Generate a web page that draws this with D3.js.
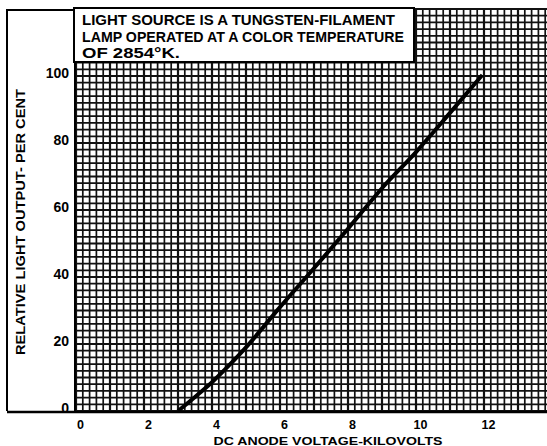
<!DOCTYPE html>
<html><head><meta charset="utf-8">
<script src="https://cdn.jsdelivr.net/npm/d3@7"></script>
<style>
html,body{margin:0;padding:0;background:#fff;}
svg{display:block;}
text{font-family:"Liberation Sans",Arial,sans-serif;font-weight:bold;fill:#000;}
</style></head><body>
<svg id="c" width="547" height="446"></svg>
<script>
// ---- data ----
const voltageKV = [3.0, 3.5, 4.0, 4.5, 5.0, 6.0, 7.0, 8.0, 9.0, 10.0, 11.0, 11.95];
const lightOutput = [0, 4.2, 8.6, 13.6, 19.0, 31.0, 42.6, 54.4, 66.5, 77.3, 89.0, 100.3];
const xTicks = [0, 2, 4, 6, 8, 10, 12];
const yTicks = [0, 20, 40, 60, 80, 100];
const noteLines = ["LIGHT SOURCE IS A TUNGSTEN-FILAMENT", "LAMP OPERATED AT A COLOR TEMPERATURE", "OF 2854°K."];
const xTitle = "DC ANODE  VOLTAGE-KILOVOLTS";
const yTitle = "RELATIVE LIGHT OUTPUT- PER CENT";

const svg = d3.select("#c");
const x = d3.scaleLinear().domain([0, 14]).range([76, 552]);
const y = d3.scaleLinear().domain([0, 120]).range([411, 9]);

// outer frame (left margin box)
svg.append("path").attr("d", "M7,411 L7,10 L75,10").attr("fill", "none").attr("stroke", "#000").attr("stroke-width", 2);
svg.append("line").attr("x1", 7).attr("x2", 76).attr("y1", 412).attr("y2", 412).attr("stroke", "#000").attr("stroke-width", 2.5);

// grid
const g = svg.append("g");
const xs = d3.range(0, 71).map(i => i * 0.2);
const ys = d3.range(0, 61).map(i => i * 2);
g.selectAll("line.vx").data(xs).join("line")
  .attr("x1", d => x(d)).attr("x2", d => x(d)).attr("y1", y(120)).attr("y2", y(0))
  .attr("stroke", "#111").attr("stroke-width", (d, i) => i % 5 === 0 ? 2.2 : 1.7);
g.selectAll("line.hy").data(ys).join("line")
  .attr("x1", x(0) - 1).attr("x2", 547).attr("y1", d => y(d)).attr("y2", d => y(d))
  .attr("stroke", "#111").attr("stroke-width", (d, i) => i % 5 === 0 ? 2.2 : 1.7);
svg.append("line").attr("x1", x(0)).attr("x2", 547).attr("y1", y(0) + 1).attr("y2", y(0) + 1).attr("stroke", "#000").attr("stroke-width", 2.5);
svg.append("line").attr("x1", x(0) - 1).attr("x2", x(0) - 1).attr("y1", 9).attr("y2", 412).attr("stroke", "#000").attr("stroke-width", 2);

// curve
const line = d3.line().x((d, i) => x(voltageKV[i])).y(d => y(d)).curve(d3.curveMonotoneX);
svg.append("path").datum(lightOutput).attr("d", line).attr("fill", "none")
  .attr("stroke", "#000").attr("stroke-width", 4).attr("stroke-linecap", "butt");

// annotation box
svg.append("rect").attr("x", 74).attr("y", 8).attr("width", 340).attr("height", 54)
  .attr("fill", "#fff").attr("stroke", "#000").attr("stroke-width", 2);
const noteW = [313, 322, 98];
svg.selectAll("text.note").data(noteLines).join("text").attr("class", "note")
  .attr("x", 82).attr("y", (d, i) => [25, 42, 58][i])
  .attr("font-size", 14).attr("textLength", (d, i) => noteW[i]).attr("lengthAdjust", "spacingAndGlyphs")
  .text(d => d);

// axes (labels only)
const xAxis = d3.axisBottom(x).tickValues(xTicks).tickSize(0).tickFormat(d3.format("d"));
const xa = svg.append("g").attr("transform", `translate(4,${y(0) + 6})`).call(xAxis);
xa.select(".domain").remove();
xa.selectAll("text").attr("font-size", 12.5).attr("font-family", "Liberation Sans, Arial, sans-serif").attr("font-weight", "bold");

const yAxis = d3.axisLeft(y).tickValues(yTicks).tickSize(0).tickFormat(d3.format("d"));
const ya = svg.append("g").attr("transform", `translate(${x(0) - 4},0)`).call(yAxis);
ya.select(".domain").remove();
ya.selectAll("text").attr("font-size", 14).attr("font-family", "Liberation Sans, Arial, sans-serif").attr("font-weight", "bold").attr("dy", "0.1em");

// titles
svg.append("text").attr("x", 328).attr("y", 445).attr("text-anchor", "middle").attr("font-size", 11.5)
  .attr("textLength", 229).attr("lengthAdjust", "spacingAndGlyphs").text(xTitle);
svg.append("text").attr("transform", "translate(25,222) rotate(-90)").attr("text-anchor", "middle")
  .attr("font-size", 13).attr("textLength", 266).attr("lengthAdjust", "spacingAndGlyphs").text(yTitle);
</script>
</body></html>
